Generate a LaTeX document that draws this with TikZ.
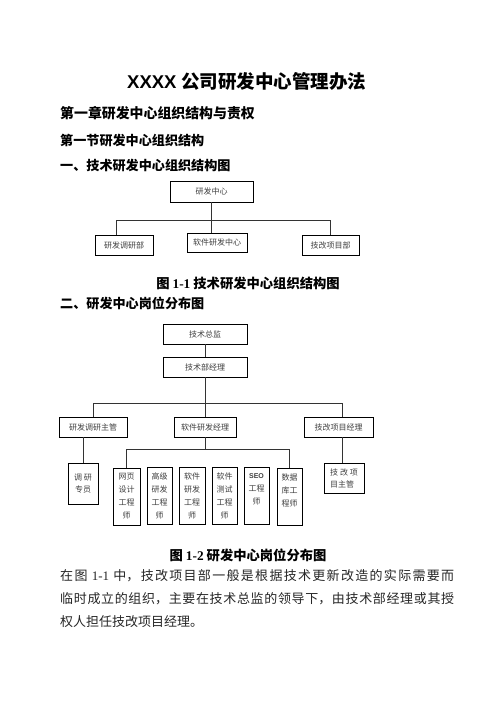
\documentclass[tikz,border=0pt]{standalone}
\usepackage{fontspec}
\setmainfont{Liberation Serif}
\newfontfamily\cjk{Noto Sans CJK SC}
\newfontfamily\arialf{Liberation Sans}
\begin{document}
\begin{tikzpicture}[x=1pt,y=-1pt,
  box/.style={draw=black, line width=0.9pt, inner sep=0pt, font=\cjk\fontsize{8}{13}\selectfont, text=black!75, align=center},
  conn/.style={draw=black!80, line width=0.9pt},
  head/.style={anchor=west, inner sep=0pt, font=\cjk\bfseries\fontsize{13.1}{15}\selectfont},
  captext/.style={inner sep=0pt, font=\cjk\bfseries\fontsize{13.3}{15}\selectfont},
  para/.style={anchor=west, inner sep=0pt, font=\cjk\fontsize{13}{15}\selectfont, text=black!85}]
\useasboundingbox[fill=white] (0,0) rectangle (496,702);

% title and headings
\node[anchor=west, inner sep=0pt, font=\fontsize{18.5}{20}\selectfont] (title) at (127,81)
  {{\arialf\bfseries XXXX} {\cjk\bfseries 公司研发中心管理办法}};
\node[head, font=\cjk\bfseries\fontsize{13.9}{15}\selectfont] (h1) at (60,113) {第一章研发中心组织结构与责权};
\node[head] (h2) at (60,141) {第一节研发中心组织结构};
\node[head] (h3) at (60,166) {一、技术研发中心组织结构图};

% chart 1
\node[box, minimum width=83pt, minimum height=21pt] (n1) at (211.5,191.5) {研发中心};
\node[box, minimum width=58pt, minimum height=20pt] (a1) at (124,245) {研发调研部};
\node[box, minimum width=60pt, minimum height=19pt] (a2) at (217,242.5) {软件研发中心};
\node[box, minimum width=57pt, minimum height=20pt] (a3) at (330.5,245) {技改项目部};
\coordinate (b1L) at (116,220);
\coordinate (b1R) at (330,220);
\draw[conn] (n1.south) -- (n1.south |- b1L);
\draw[conn] (b1L) -- (b1R);
\draw[conn] (b1L) -- (b1L |- a1.north);
\draw[conn] (n1.south |- b1L) -- (n1.south |- a2.north);
\draw[conn] (b1R) -- (b1R |- a3.north);

\node[captext] (c1) at (248,283) {图 {\rmfamily 1-1} 技术研发中心组织结构图};
\node[head] (h4) at (60,303) {二、研发中心岗位分布图};

% chart 2
\node[box, minimum width=84pt, minimum height=20pt] (t1) at (205,334) {技术总监};
\node[box, minimum width=84pt, minimum height=20pt] (t2) at (205,367) {技术部经理};
\node[box, minimum width=68pt, minimum height=20pt] (m1) at (93,427) {研发调研主管};
\node[box, minimum width=62pt, minimum height=20pt] (m2) at (205,427) {软件研发经理};
\node[box, minimum width=69pt, minimum height=20pt] (m3) at (338.5,427) {技改项目经理};
\node[box, minimum width=30pt, minimum height=41pt, font=\cjk\fontsize{8}{12}\selectfont] (r1) at (83,483.5) {调 研\\专员};
\node[box, minimum width=27pt, minimum height=57pt] (e1) at (126.5,496.5) {网页\\设计\\工程\\师};
\node[box, minimum width=25pt, minimum height=57pt] (e2) at (159.5,495.5) {高级\\研发\\工程\\师};
\node[box, minimum width=26pt, minimum height=57pt] (e3) at (192,495.5) {软件\\研发\\工程\\师};
\node[box, minimum width=25pt, minimum height=57pt] (e4) at (224.5,495.5) {软件\\测试\\工程\\师};
\node[box, minimum width=25pt, minimum height=57pt] (e5) at (256.5,495.5) {{\arialf\bfseries\fontsize{7}{13}\selectfont SEO}\\工程\\师\\~};
\node[box, minimum width=25pt, minimum height=57pt] (e6) at (289.5,496.5) {数据\\库工\\程师\\~};
\node[box, minimum width=40pt, minimum height=30pt, align=left, font=\cjk\fontsize{8}{12}\selectfont] (p1) at (344,478) {技 改 项\\目主管};

\draw[conn] (t1) -- (t2);
\coordinate (b2L) at (93,403);
\coordinate (b2R) at (342,403);
\draw[conn] (t2.south) -- (t2.south |- b2L);
\draw[conn] (b2L) -- (b2R);
\draw[conn] (b2L) -- (m1.north);
\draw[conn] (t2.south |- b2L) -- (t2.south |- m2.north);
\draw[conn] (b2R) -- (b2R |- m3.north);
\draw[conn] (m1.south -| r1.north) -- (r1.north);
\coordinate (b3L) at (126,449);
\coordinate (b3R) at (289,449);
\draw[conn] (m2.south) -- (m2.south |- b3L);
\draw[conn] (b3L) -- (b3R);
\draw[conn] (b3L) -- (b3L |- e1.north);
\draw[conn] (b3R) -- (b3R |- e6.north);
\draw[conn] (b2R |- m3.south) -- (b2R |- p1.north);

\node[captext] (c2) at (248,555) {图 {\rmfamily 1-2} 研发中心岗位分布图};

% paragraph
\node[para] (p1a) at (60,576) {{\spaceskip=0pt plus 1fil\makebox[394pt][s]{在 图\hspace{3pt} {\rmfamily 1-1}\hspace{3pt} 中， 技 改 项 目 部 一 般 是 根 据 技 术 更 新 改 造 的 实 际 需 要 而}}};
\node[para] (p1b) at (60,599) {{\spaceskip=0pt plus 1fil\makebox[394pt][s]{临 时 成 立 的 组 织， 主 要 在 技 术 总 监 的 领 导 下， 由 技 术 部 经 理 或 其 授}}};
\node[para] (p1c) at (60,622) {权人担任技改项目经理。};
\end{tikzpicture}
\end{document}
